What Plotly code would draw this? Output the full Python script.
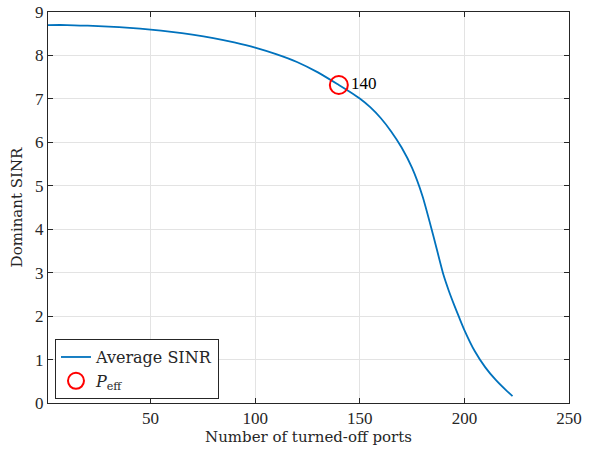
import plotly.graph_objects as go

ports = [1, 10, 20, 30, 40, 50, 60, 70, 80, 90, 100, 110, 120, 130, 140, 145, 150, 155,
         160, 165, 170, 175, 180, 185, 190, 192.5, 195, 197.5, 200, 205, 210, 215, 220, 223]
sinr = [8.70, 8.70, 8.685, 8.665, 8.635, 8.595, 8.545, 8.48, 8.40, 8.30, 8.18, 8.03, 7.85,
        7.61, 7.32, 7.17, 7.01, 6.81, 6.56, 6.25, 5.88, 5.41, 4.76, 3.88, 2.95, 2.59,
        2.27, 1.97, 1.68, 1.19, 0.82, 0.53, 0.29, 0.16]
p_eff_x = [140]
p_eff_y = [7.32]
p_eff_label = ["140"]

xticks = [50, 100, 150, 200, 250]
yticks = list(range(0, 10))

NUMFONT = "Liberation Serif"
TXTFONT = "DejaVu Serif"
AX = "#262626"

fig = go.Figure()
fig.add_trace(go.Scatter(x=ports, y=sinr, mode="lines", name="Average SINR",
                         line=dict(color="#0072BD", width=1.8, shape="spline", smoothing=0.6)))
fig.add_trace(go.Scatter(x=p_eff_x, y=p_eff_y, mode="markers+text", name="<i>P</i><sub>eff</sub>",
                         text=p_eff_label, textposition="middle right",
                         textfont=dict(family=NUMFONT, size=17, color="black"),
                         marker=dict(symbol="circle-open", size=18, color="red",
                                     line=dict(width=2, color="red"))))

axis_common = dict(showline=True, linecolor=AX, linewidth=1, mirror="ticks",
                   ticks="inside", ticklen=5, tickcolor=AX, automargin=False,
                   showgrid=True, gridcolor="#e3e3e3", gridwidth=1, zeroline=False,
                   tickfont=dict(family=NUMFONT, size=17, color=AX),
                   title_font=dict(family=TXTFONT, size=15, color=AX))

fig.update_xaxes(range=[1, 250], tickvals=xticks, title_text="Number of turned-off ports",
                 title_standoff=4, **axis_common)
fig.update_yaxes(range=[0, 9], tickvals=yticks, title_text="Dominant SINR",
                 title_standoff=8, **axis_common)

fig.update_layout(width=597, height=453, margin=dict(l=48, r=28, t=12, b=50, autoexpand=False),
                  plot_bgcolor="white", paper_bgcolor="white",
                  font=dict(family=TXTFONT, size=15, color=AX),
                  legend=dict(x=0.0134, y=0.01, xanchor="left", yanchor="bottom",
                              bgcolor="white", bordercolor=AX, borderwidth=1,
                              font=dict(family=TXTFONT, size=16, color=AX),
                              tracegroupgap=0, itemwidth=30),
                  showlegend=True)

fig.write_html("out.html")
